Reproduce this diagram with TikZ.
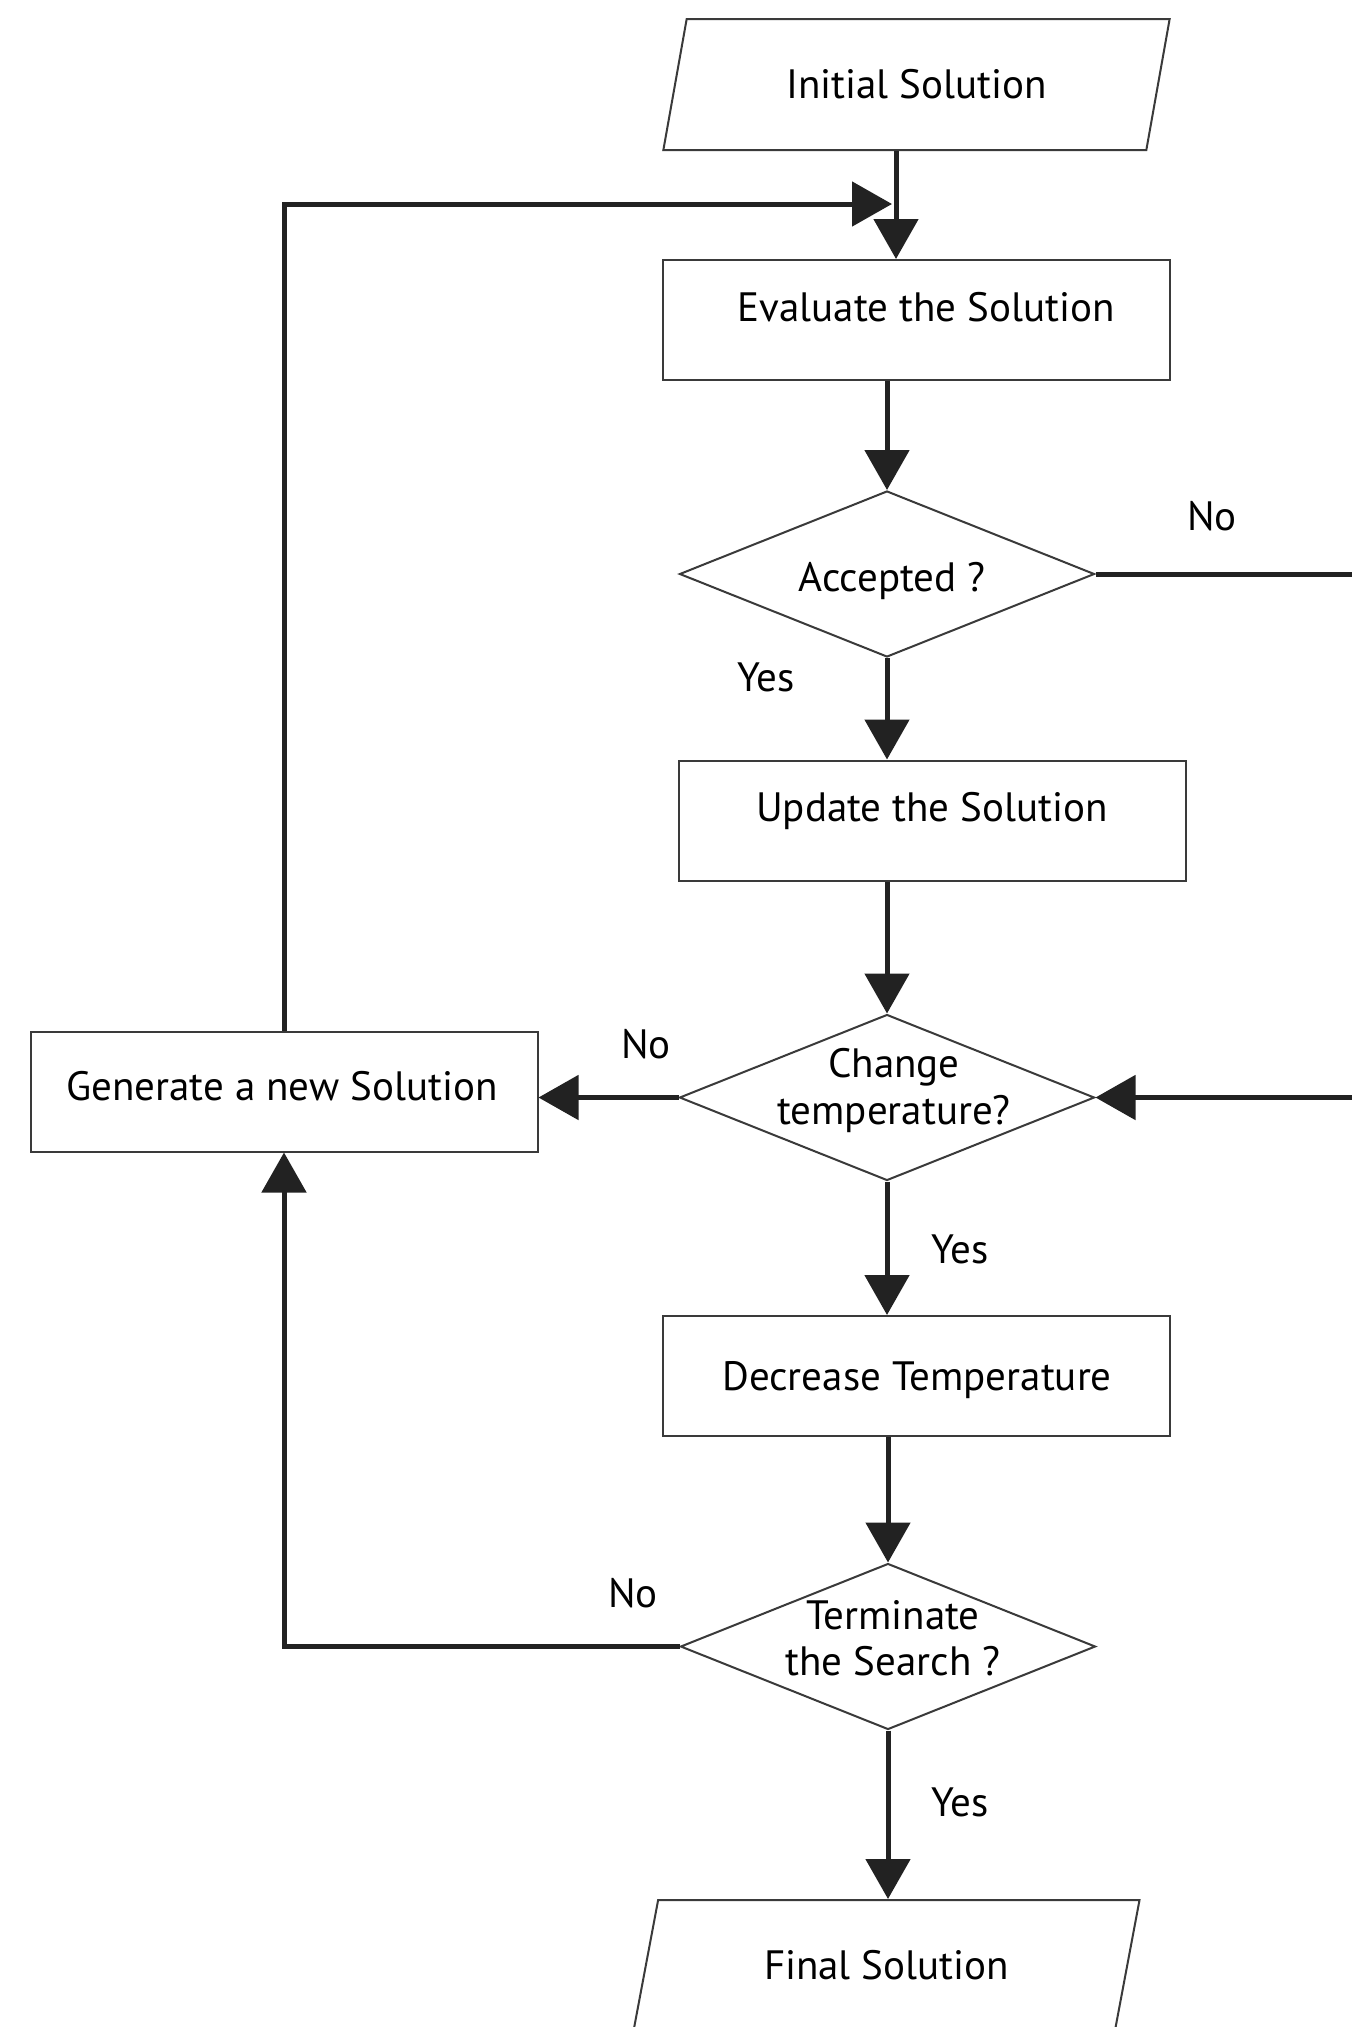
\documentclass[tikz,border=0pt]{standalone}
\usepackage{fontspec}
\setmainfont{PT Sans}
\usetikzlibrary{shapes.geometric,arrows.meta}
\definecolor{ink}{HTML}{222222}
\definecolor{edge}{HTML}{3A3A3A}
\tikzset{
  txt/.style={font=\fontsize{41}{48}\selectfont, inner sep=0pt, align=center},
  procbox/.style={draw=edge, line width=2pt, rectangle, minimum width=507pt, minimum height=120pt, inner sep=0pt},
  decbox/.style={draw=edge, line width=2pt, diamond, minimum width=415pt, minimum height=166pt, inner sep=0pt},
  iobox/.style={draw=edge, line width=2pt, trapezium, trapezium left angle=66, trapezium right angle=114, trapezium stretches=true, minimum width=507pt, minimum height=131pt, inner sep=0pt, font=\fontsize{41}{48}\selectfont},
  conn/.style={draw=ink, line width=5pt},
  arr/.style={conn, -{Triangle[length=40pt,width=44pt]}},
}
\begin{document}
\begin{tikzpicture}[x=1pt,y=-1pt]
\useasboundingbox[fill=white] (0,0) rectangle (1352,2027);
% shapes
\node[iobox] (init) at (916.5,84.5) {Initial Solution};
\node[procbox] (eval) at (916.5,320) {};
\node[decbox] (acc) at (887,574) {};
\node[procbox] (upd) at (932,820.5) {};
\node[decbox] (chg) at (887,1097.5) {};
\node[procbox] (gen) at (284,1091.5) {};
\node[procbox] (dec) at (916.5,1376) {};
\node[decbox] (term) at (888,1646.5) {};
\node[iobox] (fin) at (886.5,1965.5) {Final Solution};
% texts
\node[txt] (evaltxt) at (926,307) {Evaluate the Solution};
\node[txt] (acctxt) at (892,581) {Accepted ?};
\node[txt] (updtxt) at (932,811) {Update the Solution};
\node[txt] (gentxt) at (282,1086) {Generate a new Solution};
\node[txt] (dectxt) at (917,1380) {Decrease Temperature};
\node[txt] (chgtxt) at (894,1090) {Change\\[-1pt]temperature?};
\node[txt] (termtxt) at (893,1638) {Terminate\\[-2pt]the Search ?};
% labels
\node[txt] (l1) at (1212,516) {No};
\node[txt] (l2) at (766,677) {Yes};
\node[txt] (l3) at (646,1044) {No};
\node[txt] (l4) at (960,1249) {Yes};
\node[txt] (l5) at (633,1593) {No};
\node[txt] (l6) at (960,1802) {Yes};
% free ends
\coordinate (j) at (896,204);
\coordinate (rout) at (1352,574);
\coordinate (rin) at (1352,1097.5);
% connectors
\draw[arr] (init.south -| j) -- (eval.north -| j);
\draw[arr] (gen.north) |- ([xshift=-4pt]j);
\draw[arr] (eval.south -| acc.north) -- (acc.north);
\draw[conn] (acc.east) -- (rout);
\draw[arr] (acc.south) -- (acc.south |- upd.north);
\draw[arr] (upd.south -| chg.north) -- (chg.north);
\draw[arr] (chg.west) -- (chg.west -| gen.east);
\draw[arr] (rin) -- (chg.east);
\draw[arr] (chg.south) -- (chg.south |- dec.north);
\draw[arr] (dec.south -| term.north) -- (term.north);
\draw[arr] (term.west) -| (gen.south);
\draw[arr] (term.south) -- (term.south |- fin.north);
\end{tikzpicture}
\end{document}
